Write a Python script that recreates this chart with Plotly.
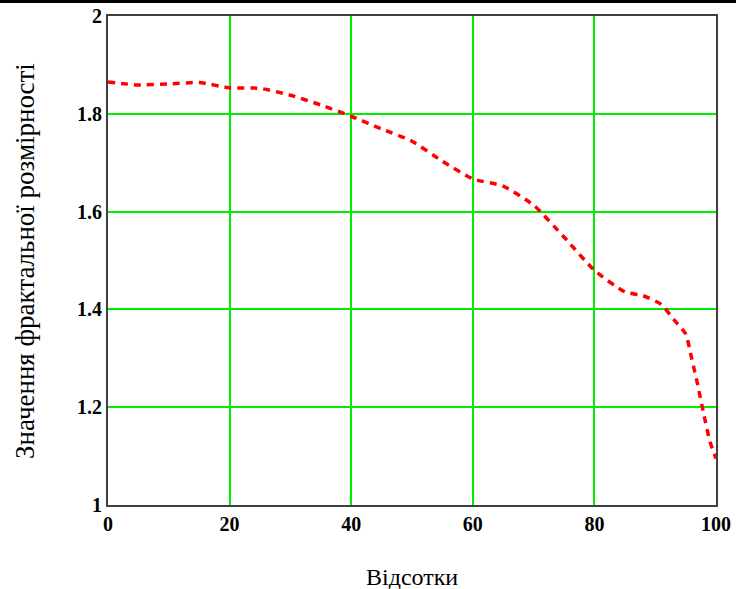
import plotly.graph_objects as go

x_pct = [0, 5, 10, 15, 20, 25, 30, 35, 40, 45, 50, 55, 60, 65, 70, 75, 80, 85, 88, 91, 93, 95, 96, 97, 98, 99, 100]
dim_vals = [1.865, 1.859, 1.861, 1.864, 1.853, 1.852, 1.838, 1.818, 1.795, 1.769, 1.744, 1.703, 1.667,
            1.652, 1.613, 1.548, 1.480, 1.436, 1.428, 1.410, 1.380, 1.350, 1.300, 1.245, 1.185, 1.130, 1.095]
x_ticks = [0, 20, 40, 60, 80, 100]
y_ticks = [1, 1.2, 1.4, 1.6, 1.8, 2]
y_tick_text = ["1", "1.2", "1.4", "1.6", "1.8", "2"]
x_title = "Відсотки"
y_title = "Значення фрактальної розмірності"

SERIF = "Liberation Serif, Times New Roman, serif"

fig = go.Figure()
fig.add_trace(go.Scatter(
    x=x_pct, y=dim_vals, mode="lines",
    line=dict(color="#ff0000", width=3.5, dash="7px,6px", shape="spline", smoothing=0.6),
    showlegend=False, hoverinfo="skip"))

font_tick = dict(family=SERIF, size=20, color="black", weight="bold")
fig.update_layout(
    width=736, height=589,
    margin=dict(l=108, r=20, t=16, b=84),
    paper_bgcolor="white", plot_bgcolor="white",
    xaxis=dict(range=[0, 100], tickvals=x_ticks, showgrid=True, gridcolor="#00ee00", gridwidth=2,
               zeroline=False, showline=True, linecolor="#404040", linewidth=2, mirror=True,
               ticks="", tickfont=font_tick, fixedrange=True, automargin=False),
    yaxis=dict(range=[1, 2], tickvals=y_ticks, ticktext=y_tick_text, showgrid=True, gridcolor="#00ee00",
               gridwidth=2, zeroline=False, showline=True, linecolor="#404040", linewidth=2, mirror=True,
               ticks="", tickfont=font_tick, fixedrange=True, automargin=False),
    shapes=[dict(type="line", xref="paper", yref="paper", x0=-0.2, x1=1.1, y0=1.0297, y1=1.0297,
                 line=dict(color="black", width=3))],
    annotations=[
        dict(text=x_title, xref="paper", yref="paper", x=0.5, y=(505 - 577) / 489,
             xanchor="center", yanchor="middle", showarrow=False,
             font=dict(family=SERIF, size=24, color="black")),
        dict(text=y_title, xref="paper", yref="paper", x=(25 - 108) / 608, y=0.499,
             xanchor="center", yanchor="middle", textangle=-90, showarrow=False,
             font=dict(family=SERIF, size=27, color="black")),
    ],
)
fig.write_html("out.html", config={"displayModeBar": False},
               post_script="document.body.style.margin='0';document.body.style.overflow='hidden';")
